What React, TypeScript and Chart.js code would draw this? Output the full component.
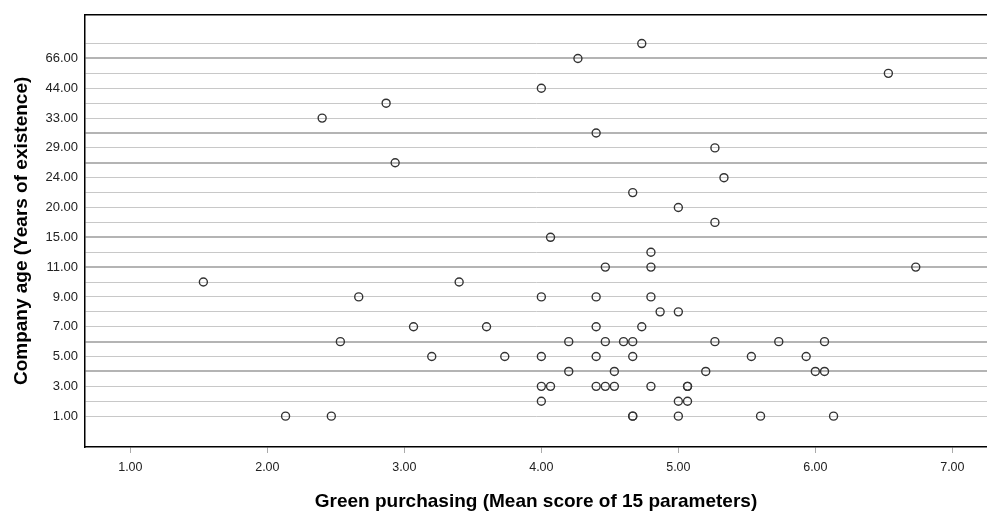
import React, { useEffect, useRef } from "react";
import { Chart, registerables } from "chart.js";

Chart.register(...registerables);

// Y categories (company age, years) — one row each, every other row labelled
const ageCategories = [1, 2, 3, 4, 5, 6, 7, 8, 9, 10, 11, 12, 15, 17, 20, 22, 24, 26, 29, 31, 33, 38, 44, 50, 66, 100];

// X axis tick values
const xTickValues = [1, 2, 3, 4, 5, 6, 7];

// Observations: company age and green purchasing score (paired)
const companyAge = [
  100, 66, 50, 44, 38, 33, 31, 29, 26, 24, 22, 20, 17, 15, 12,
  11, 11, 11,
  10, 10,
  9, 9, 9, 9,
  8, 8,
  7, 7, 7, 7,
  6, 6, 6, 6, 6, 6, 6, 6,
  5, 5, 5, 5, 5, 5, 5,
  4, 4, 4, 4, 4,
  3, 3, 3, 3, 3, 3, 3, 3,
  2, 2, 2,
  1, 1, 1, 1, 1, 1, 1,
];
const greenPurchasing = [
  4.733, 4.267, 6.533, 4.0, 2.867, 2.4, 4.4, 5.267, 2.933, 5.333, 4.667, 5.0, 5.267, 4.067, 4.8,
  4.467, 4.8, 6.733,
  1.533, 3.4,
  2.667, 4.0, 4.4, 4.8,
  4.867, 5.0,
  3.067, 3.6, 4.4, 4.733,
  2.533, 4.2, 4.467, 4.6, 4.667, 5.267, 5.733, 6.067,
  3.2, 3.733, 4.0, 4.4, 4.667, 5.533, 5.933,
  4.2, 4.533, 5.2, 6.0, 6.067,
  4.0, 4.067, 4.4, 4.467, 4.533, 4.8, 5.067, 5.067,
  4.0, 5.0, 5.067,
  2.133, 2.467, 4.667, 4.667, 5.0, 5.6, 6.133,
];

// Rows whose grid lines render heavier in the reference
const heavyRows = [4, 6, 11, 13, 18, 20, 25];

const FONT = "'Liberation Sans', Arial, sans-serif";

export default function App() {
  const canvasRef = useRef<HTMLCanvasElement | null>(null);

  useEffect(() => {
    const canvas = canvasRef.current;
    if (!canvas) return;
    const points = companyAge.map((age, i) => ({
      x: greenPurchasing[i],
      y: ageCategories.indexOf(age) + 1,
    }));

    const topBorder = {
      id: "topBorder",
      afterDraw(chart: any) {
        const { ctx, chartArea } = chart;
        ctx.save();
        ctx.strokeStyle = "#000";
        ctx.lineWidth = 1.5;
        ctx.beginPath();
        ctx.moveTo(chartArea.left, chartArea.top);
        ctx.lineTo(chartArea.right, chartArea.top);
        ctx.stroke();
        ctx.restore();
      },
    };

    const chart = new Chart(canvas, {
      type: "scatter",
      data: {
        datasets: [
          {
            data: points,
            pointRadius: 4,
            pointHoverRadius: 4,
            pointBorderWidth: 1.4,
            borderColor: "#333333",
            backgroundColor: "rgba(0,0,0,0)",
          },
        ],
      },
      options: {
        animation: false,
        responsive: false,
        devicePixelRatio: 1,
        layout: { autoPadding: false, padding: { top: 9, left: 0, right: 0, bottom: 0 } },
        plugins: { legend: { display: false }, tooltip: { enabled: false } },
        scales: {
          x: {
            type: "linear",
            min: 0.669,
            max: 7.253,
            afterBuildTicks: (scale: any) => {
              scale.ticks = xTickValues.map((v) => ({ value: v }));
            },
            afterFit: (scale: any) => {
              scale.height = 70;
              scale.paddingRight = 0;
              scale.paddingLeft = 0;
            },
            ticks: {
              autoSkip: false,
              maxRotation: 0,
              padding: 7,
              color: "#222",
              font: { family: FONT, size: 12.5 },
              callback: (v: any) => Number(v).toFixed(2),
            },
            grid: {
              drawOnChartArea: false,
              drawTicks: true,
              tickLength: 6,
              color: "#aaaaaa",
              lineWidth: 1,
            },
            border: { display: true, color: "#000", width: 1.5 },
            title: {
              display: true,
              text: "Green purchasing (Mean score of 15 parameters)",
              color: "#000",
              font: { family: FONT, size: 19, weight: "bold" },
              padding: { top: 0, bottom: 4 },
            },
          },
          y: {
            type: "linear",
            min: -1.07,
            max: 27.93,
            afterBuildTicks: (scale: any) => {
              scale.ticks = ageCategories.map((_, i) => ({ value: i + 1 }));
            },
            afterFit: (scale: any) => {
              scale.width = 85;
            },
            ticks: {
              autoSkip: false,
              padding: 7,
              color: "#222",
              font: { family: FONT, size: 13 },
              callback: (v: any) => {
                const idx = Math.round(Number(v));
                if (idx % 2 === 0) return "";
                const age = ageCategories[idx - 1];
                return age === undefined ? "" : age.toFixed(2);
              },
            },
            grid: {
              drawTicks: false,
              color: (ctx: any) => (heavyRows.includes(ctx.tick?.value) ? "#b4b4b4" : "#c8c8c8"),
              lineWidth: (ctx: any) => (heavyRows.includes(ctx.tick?.value) ? 2 : 1),
            },
            border: { display: true, color: "#000", width: 1.5 },
            title: {
              display: true,
              text: "Company age (Years of existence)",
              color: "#000",
              font: { family: FONT, size: 19, weight: "bold" },
              padding: { top: 10, bottom: 0 },
            },
          },
        },
      },
      plugins: [topBorder],
    });

    return () => chart.destroy();
  }, []);

  return (
    <div style={{ position: "fixed", left: 0, top: 0, width: 987, height: 517, background: "#fff" }}>
      <canvas ref={canvasRef} width={987} height={517} style={{ display: "block" }} />
    </div>
  );
}
